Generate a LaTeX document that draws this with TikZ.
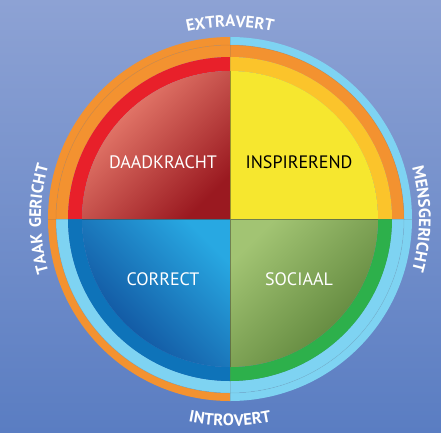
\documentclass[tikz,border=0pt]{standalone}
\usepackage{fontspec}
\setmainfont{PT Sans}
\usetikzlibrary{decorations.text}

\definecolor{bgtop}{HTML}{8DA2D4}
\definecolor{bgbottom}{HTML}{5A7DC2}
\definecolor{bandorange}{HTML}{F39230}
\definecolor{bandblue}{HTML}{7ED3F2}
\definecolor{ringred}{HTML}{E8202A}
\definecolor{ringyellow}{HTML}{FBC42B}
\definecolor{ringblue}{HTML}{0E73B9}
\definecolor{ringgreen}{HTML}{2DB04B}
\definecolor{redlight}{HTML}{F28A78}
\definecolor{redmid}{HTML}{E8232B}
\definecolor{reddark}{HTML}{9A1920}
\definecolor{yellowfill}{HTML}{F6E72F}
\definecolor{bluelight}{HTML}{28A8E2}
\definecolor{bluemid}{HTML}{1472BD}
\definecolor{bluedark}{HTML}{0E4896}
\definecolor{greenlight}{HTML}{A2C473}
\definecolor{greenmid}{HTML}{7AA346}
\definecolor{greendark}{HTML}{587F36}

\tikzset{
  quadlabel/.style={font=\fontsize{18}{18}\selectfont, text=white},
  seamline/.style={black!60, opacity=0.2, line width=0.5pt},
  crossline/.style={black!70!olive, opacity=0.5, line width=0.7pt},
  curvelabel/.style={decorate, decoration={text along path, text align=center,
      text color=white, text={|\fontsize{16.5}{16.5}\selectfont\bfseries\addfontfeatures{LetterSpace=8}|#1}}},
}

\begin{document}
\begin{tikzpicture}[x=1pt,y=1pt]
    % background
    \shade[top color=bgtop, bottom color=bgbottom] (-230,-213) rectangle (211,219);
    \useasboundingbox (-230,-213) rectangle (211,219);

    % outer band: taak (left) and mens (right)
    \foreach \from/\to/\col in {90/270/bandorange, -90/90/bandblue}
        \fill[\col] (\from:182pt) arc[start angle=\from, end angle=\to, radius=182pt]
            -- (\to:174pt) arc[start angle=\to, end angle=\from, radius=174pt] -- cycle;

    % middle band: extravert (top) and introvert (bottom)
    \foreach \from/\to/\col in {0/180/bandorange, 180/360/bandblue}
        \fill[\col] (\from:174pt) arc[start angle=\from, end angle=\to, radius=174pt]
            -- (\to:162pt) arc[start angle=\to, end angle=\from, radius=162pt] -- cycle;

    % inner ring, one colour per quadrant
    \foreach \from/\col in {90/ringred, 0/ringyellow, 180/ringblue, 270/ringgreen}
        \fill[\col] (\from:162pt) arc[start angle=\from, end angle=\from+90, radius=162pt]
            -- ({\from+90}:148pt) arc[start angle=\from+90, end angle=\from, radius=148pt] -- cycle;

    % the four quadrants
    \shade[top color=redlight, middle color=redmid, bottom color=reddark, shading angle=45]
        (0,0) -- (90:148pt) arc[start angle=90, end angle=180, radius=148pt] -- cycle;
    \fill[yellowfill]
        (0,0) -- (0:148pt) arc[start angle=0, end angle=90, radius=148pt] -- cycle;
    \shade[top color=bluelight, middle color=bluemid, bottom color=bluedark, shading angle=-45]
        (0,0) -- (180:148pt) arc[start angle=180, end angle=270, radius=148pt] -- cycle;
    \shade[top color=greenlight, middle color=greenmid, bottom color=greendark, shading angle=45]
        (0,0) -- (270:148pt) arc[start angle=270, end angle=360, radius=148pt] -- cycle;

    % seams
    \draw[seamline] (0,0) circle (174pt);
    \foreach \a in {0,90,180,270}
        \draw[seamline] (\a:148pt) -- (\a:182pt);
    \draw[crossline] (-148,0) -- (148,0) (0,-148) -- (0,148);

    % quadrant names
    \node[quadlabel] (daadkracht) at (-67,57) {DAADKRACHT};
    \node[quadlabel, text=black] (inspirerend) at (69,57) {INSPIREREND};
    \node[quadlabel] (correct) at (-67,-60) {CORRECT};
    \node[quadlabel] (sociaal) at (69,-60) {SOCIAAL};

    % axis names round the circle
    \path[curvelabel=EXTRAVERT] (120:192pt) arc[start angle=120, end angle=60, radius=192pt];
    \path[curvelabel={TAAK GERICHT}] (240:189pt) arc[start angle=240, end angle=120, radius=189pt];
    \path[curvelabel=MENSGERICHT] (60:189pt) arc[start angle=60, end angle=-60, radius=189pt];
    \path[curvelabel=INTROVERT] (240:207pt) arc[start angle=240, end angle=300, radius=207pt];
\end{tikzpicture}
\end{document}
